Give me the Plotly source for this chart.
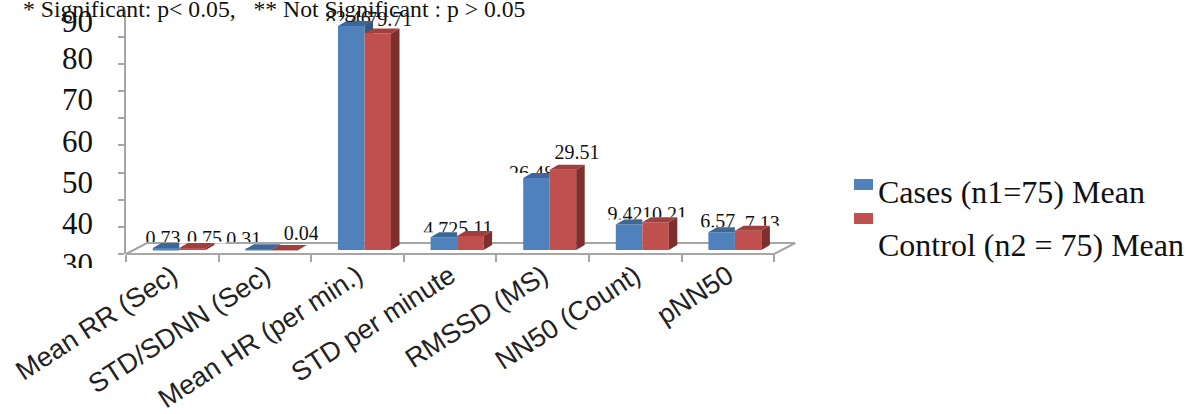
import plotly.graph_objects as go

categories = ["Mean RR (Sec)", "STD/SDNN (Sec)", "Mean HR (per min.)", "STD per minute",
              "RMSSD (MS)", "NN50 (Count)", "pNN50"]
cases = [0.73, 0.31, 82.46, 4.72, 26.48, 9.42, 6.57]
control = [0.75, 0.04, 79.71, 5.11, 29.51, 10.21, 7.13]
case_name = "Cases (n1=75) Mean"
control_name = "Control (n2 = 75) Mean"
note = "* Significant: p< 0.05,   ** Not Significant : p > 0.05"
y_labels = [90, 80, 70, 60, 50, 40, 30]
y_ticks = [0, 10, 20, 30, 40, 50, 60, 70, 80, 90]

W, H = 1191, 414
PX_X, PX_Y = 92.6, 2.717       # pixels per category / per value unit
X0, Y0 = 126, 254              # pixel position of the axis origin
XR = 800                       # right edge of the plotting region
ux, uy = 1 / PX_X, 1 / PX_Y
FLOOR = 4 * uy                 # bars stand a little behind the front edge
BW = 26.5 * ux                 # bar width
SHIFT = 7 * ux                 # bars sit right of category centre
DX, DY = 8.5 * ux, 5 * uy      # 3-D depth of a bar
FX, FY = 21 * ux, 11 * uy      # 3-D depth of the floor
MASK = 20 * ux                 # how far the white band behind a bar reaches sideways
GRAY = "#a6a6a6"
BLUE, RED = "#4f81bd", "#c0504d"
BLUE_TOP, RED_TOP = "#3c6797", "#a03f3c"
BLUE_SIDE, RED_SIDE = "#34587f", "#7d2f2e"
SERIF, SANS = "Liberation Serif", "Liberation Sans"

# label placement in pixels relative to the bar's front-top centre: (dx, lift)
case_label_px = [(-3, 8), (-15, 8), (-3, 6), (-3, 6), (-5, 3), (-4, 8), (-4, 9)]
ctrl_label_px = [(12, 8), (16, 15), (12, 12), (5, 6), (14, 16), (9, 6), (14, 6)]
y_label_px = [21, 58, 99, 141, 182, 223, 264]

n = len(categories)
xc = [i + 0.5 + SHIFT for i in range(n)]
x_case = [x - BW / 2 for x in xc]
x_ctrl = [x + BW / 2 for x in xc]
top_case = [v + FLOOR for v in cases]
top_ctrl = [v + FLOOR for v in control]

fig = go.Figure()

# ---- lower subplot: data labels, then the floor which hides their feet
for xs, tops, vals, px in ((x_case, top_case, cases, case_label_px),
                           (x_ctrl, top_ctrl, control, ctrl_label_px)):
    fig.add_trace(go.Scatter(
        x=[x + p[0] * ux for x, p in zip(xs, px)],
        y=[t + p[1] * uy for t, p in zip(tops, px)],
        text=[f"{v:.2f}" for v in vals], mode="text",
        textfont=dict(family=SERIF, size=20, color="#111"),
        cliponaxis=False, hoverinfo="skip", xaxis="x", yaxis="y", showlegend=False))

xend = n
fig.add_trace(go.Scatter(
    x=[0, xend, xend + FX, FX, 0], y=[0, 0, FY, FY, 0],
    mode="lines", fill="toself", fillcolor="white",
    line=dict(color=GRAY, width=2), hoverinfo="skip",
    xaxis="x", yaxis="y", showlegend=False))

# ---- main subplot: white masks, bars, depth faces
for xs, tops, side in ((x_case, top_case, -1), (x_ctrl, top_ctrl, 1)):
    keep = [t + DY > FY for t in tops]
    fig.add_trace(go.Bar(
        x=[x + side * MASK / 2 for x in xs],
        y=[(t + DY - FY - 0.4) if k else 0 for t, k in zip(tops, keep)],
        base=FY + 0.4, width=BW + MASK,
        marker=dict(color="white", line=dict(width=0)), hoverinfo="skip",
        xaxis="x2", yaxis="y2", showlegend=False))

for xs, tops, col, name in ((x_case, top_case, BLUE, case_name), (x_ctrl, top_ctrl, RED, control_name)):
    fig.add_trace(go.Bar(
        x=xs, y=[t - FLOOR for t in tops], base=FLOOR, width=BW, name=name,
        marker=dict(color=col, line=dict(width=0)),
        xaxis="x2", yaxis="y2", showlegend=False))


def face(xs, ys, col):
    fig.add_trace(go.Scatter(
        x=xs, y=ys, mode="lines", fill="toself", fillcolor=col,
        line=dict(width=0, color=col), hoverinfo="skip",
        xaxis="x2", yaxis="y2", showlegend=False))


for i in range(n):
    lc, rc = x_case[i] - BW / 2, x_case[i] + BW / 2
    tc, tr = top_case[i], top_ctrl[i]
    # blue: top face and the part of its side that rises above the red bar
    if tc >= tr:
        face([lc, rc, rc + DX, lc + DX, lc], [tc, tc, tc + DY, tc + DY, tc], BLUE_TOP)
        face([rc, rc + DX, rc + DX, rc, rc], [tc, tc + DY, tr, tr, tc], BLUE_SIDE)
    else:
        face([lc, rc, rc, lc + DX, lc], [tc, tc, tc + DY, tc + DY, tc], BLUE_TOP)
    # red: top face and side
    l2, r2 = x_ctrl[i] - BW / 2, x_ctrl[i] + BW / 2
    face([l2, r2, r2 + DX, l2 + DX, l2], [tr, tr, tr + DY, tr + DY, tr], RED_TOP)
    face([r2, r2 + DX, r2 + DX, r2, r2], [tr, tr + DY, FLOOR + DY, FLOOR, tr], RED_SIDE)

# swatches and legend text placed as in the reference
shapes = [
    dict(type="rect", xref="paper", yref="paper", x0=854 / W, x1=873 / W,
         y0=1 - 190 / H, y1=1 - 179 / H, fillcolor=BLUE, line_width=0),
    dict(type="rect", xref="paper", yref="paper", x0=854 / W, x1=873 / W,
         y0=1 - 224 / H, y1=1 - 213 / H, fillcolor=RED, line_width=0),
    # trims the foot of the lowest y label, which is cut off in the source
    dict(type="rect", xref="paper", yref="paper", x0=50 / W, x1=100 / W,
         y0=1 - 285 / H, y1=1 - 268 / H, fillcolor="white", line_width=0, layer="above"),
]
annotations = [
    dict(text=note, xref="paper", yref="paper", x=21 / W, y=1 - 9 / H, xanchor="left",
         yanchor="middle", showarrow=False, font=dict(family=SERIF, size=23.7, color="#111")),
    dict(text=case_name, xref="paper", yref="paper", x=876 / W, y=1 - 192 / H, xanchor="left",
         yanchor="middle", showarrow=False, font=dict(family=SERIF, size=32, color="#111")),
    dict(text=control_name, xref="paper", yref="paper", x=876 / W, y=1 - 245 / H, xanchor="left",
         yanchor="middle", showarrow=False, font=dict(family=SERIF, size=32, color="#111")),
]

fig.update_layout(
    width=W, height=H, autosize=False, margin=dict(l=0, r=0, t=0, b=0),
    paper_bgcolor="white", plot_bgcolor="rgba(0,0,0,0)", showlegend=False,
    barmode="overlay", shapes=shapes, annotations=annotations,
    # lower subplot: carries the y labels, which sit off the tick marks
    xaxis=dict(domain=[98 / W, XR / W], range=[(98 - X0) * ux, (XR - X0) * ux],
               visible=False, fixedrange=True, automargin=False),
    yaxis=dict(domain=[1 - 270 / H, 1 - 2 / H], range=[(Y0 - 270) * uy, (Y0 - 2) * uy],
               tickmode="array", tickvals=[(Y0 - p) * uy for p in y_label_px],
               ticktext=[str(v) for v in y_labels], ticks="", showgrid=False, zeroline=False,
               showline=False, tickfont=dict(family=SERIF, size=31, color="#111"),
               ticklen=0, ticklabelstandoff=4, fixedrange=True, automargin=False),
    # main subplot: the real axes
    xaxis2=dict(domain=[X0 / W, XR / W], range=[0, (XR - X0) * ux], anchor="y2",
                tickmode="array", tickvals=[i + 0.5 for i in range(n)], ticktext=categories,
                tickangle=-33, ticks="", ticklen=0, showgrid=False, zeroline=False, showline=False,
                tickfont=dict(family=SANS, size=27, color="#222"), fixedrange=True, automargin=False,
                minor=dict(tickmode="array", tickvals=list(range(n + 1)), ticks="outside",
                           ticklen=7, tickwidth=2, tickcolor=GRAY, showgrid=False)),
    yaxis2=dict(domain=[1 - Y0 / H, 1 - 9.5 / H], range=[0, 90], anchor="x2",
                tickmode="array", tickvals=y_ticks, ticktext=[""] * len(y_ticks), ticks="outside",
                ticklen=6, tickwidth=2, tickcolor=GRAY, showline=True, linewidth=2, linecolor=GRAY,
                showgrid=False, zeroline=False, fixedrange=True, automargin=False),
)

fig.write_html("out.html", config={"displayModeBar": False},
               post_script="document.body.style.margin='0';")
